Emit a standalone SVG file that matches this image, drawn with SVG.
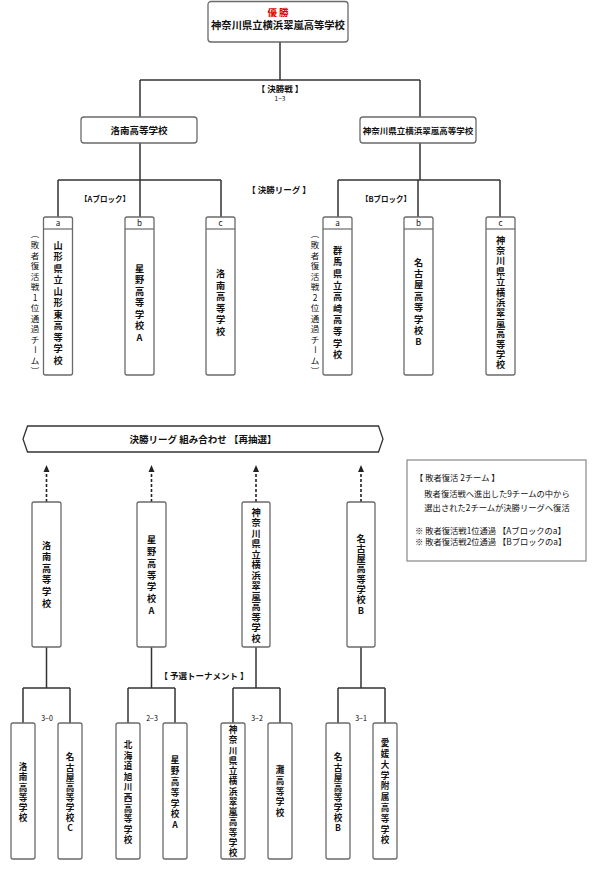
<svg xmlns="http://www.w3.org/2000/svg" width="600" height="888" viewBox="0 0 600 888">
<style>
text{font-family:"Noto Sans CJK JP","Liberation Sans",sans-serif;fill:#111}
.box{fill:#fff;stroke:#6a6a6a;stroke-width:1.3}
.hl{stroke:#6a6a6a;stroke-width:1.2}
.ln{fill:none;stroke:#333;stroke-width:1.5}
.dash{fill:none;stroke:#222;stroke-width:1.6;stroke-dasharray:3 2}
.b{font-weight:bold}
.c{text-anchor:middle}
.v1{text-anchor:middle;font-size:9.2px;font-weight:bold}
.v3{text-anchor:middle;font-size:8.6px;font-weight:bold}
.side{text-anchor:middle;font-size:8.5px}
.hd{font-size:8px;text-anchor:middle}
.sc{font-size:7px;text-anchor:middle;fill:#000}
.note{font-size:8.3px}
</style>

<g id="connectors">
<path class="ln" d="M280,42 V80 M140,80 H420 M140,80 V117 M420,80 V117"/>
<path class="ln" d="M140,143 V180 M58,180 H221 M58,180 V217 M140,180 V217 M221,180 V217"/>
<path class="ln" d="M420,143 V180 M338,180 H500 M338,180 V217 M418,180 V217 M500,180 V217"/>
<path class="dash" d="M46.5,502 V469 M151.5,502 V469 M256,502 V469 M361,502 V469"/>
<path d="M43.5,472 L46.5,465 L49.5,472 z M148.5,472 L151.5,465 L154.5,472 z M253,472 L256,465 L259,472 z M358,472 L361,465 L364,472 z" fill="#222"/>
<path class="ln" d="M46.5,647 V688 M23,688 H70 M23,688 V723 M70,688 V723"/>
<path class="ln" d="M151.5,647 V688 M128,688 H175 M128,688 V723 M175,688 V723"/>
<path class="ln" d="M256,647 V688 M233,688 H280 M233,688 V723 M280,688 V723"/>
<path class="ln" d="M361,647 V688 M338,688 H385 M338,688 V723 M385,688 V723"/>
</g>

<g id="champion">
<rect class="box" x="208" y="1.5" width="140" height="40.5" rx="3"/>
<text x="278" y="15.5" class="c b" style="font-size:9.5px;fill:#e00000">優 勝</text>
<text x="278" y="29" class="c b" style="font-size:10.3px">神奈川県立横浜翠嵐高等学校</text>
</g>

<g id="final-label">
<text x="280" y="92" class="c b" style="font-size:8.5px">【 決勝戦 】</text>
<text x="280" y="100.5" class="c" style="font-size:6.5px">1−3</text>
</g>

<g id="final-rakunan">
<rect class="box" x="81" y="117" width="116" height="26" rx="3"/>
<text x="139" y="133.5" class="c b" style="font-size:9.5px">洛南高等学校</text>
</g>
<g id="final-kanagawa">
<rect class="box" x="360" y="117" width="116" height="26" rx="3"/>
<text x="418" y="133.5" class="c b" style="font-size:8.5px">神奈川県立横浜翠嵐高等学校</text>
</g>

<g id="league-labels">
<text x="279" y="193" class="c b" style="font-size:8.5px">【 決勝リーグ 】</text>
<text x="105" y="202" class="c b" style="font-size:7.5px">【Aブロック】</text>
<text x="386" y="202" class="c b" style="font-size:7.5px">【Bブロック】</text>
</g>

<g id="A-a">
<rect class="box" x="43.5" y="217" width="29" height="158" rx="2"/>
<line class="hl" x1="43.5" y1="229" x2="72.5" y2="229"/>
<text x="58" y="226" class="hd">a</text>
<text class="v1" x="58 58 58 58 58 58 58 58 58 58 58" y="248.5 260 271.5 283 294.5 306 317.5 329 340.5 352 363.5">山形県立山形東高等学校</text>
</g>
<g id="A-side">
<text class="side" transform="rotate(90 35 234.3)" x="35" y="237.5">（</text>
<text class="side" x="35 35 35 35 35 35 35 35 35 35" y="248 258.5 269 279.5 290 300.5 311 321.5 332 342.5">敗者復活戦1位通過チ</text>
<text class="side" transform="rotate(90 35 349.8)" x="35" y="353">ー</text>
<text class="side" x="35" y="363.5">ム</text>
<text class="side" transform="rotate(90 35 370.8)" x="35" y="374">）</text>
</g>
<g id="A-b">
<rect class="box" x="125" y="217" width="29" height="158" rx="2"/>
<line class="hl" x1="125" y1="229" x2="154" y2="229"/>
<text x="139.5" y="226" class="hd">b</text>
<text class="v1" x="139.5 139.5 139.5 139.5 139.5 139.5 139.5" y="271.5 283 294.5 306 317.5 329 340.5">星野高等学校A</text>
</g>
<g id="A-c">
<rect class="box" x="206" y="217" width="29" height="158" rx="2"/>
<line class="hl" x1="206" y1="229" x2="235" y2="229"/>
<text x="220.5" y="226" class="hd">c</text>
<text class="v1" x="220.5 220.5 220.5 220.5 220.5 220.5" y="277.3 288.8 300.3 311.8 323.3 334.8">洛南高等学校</text>
</g>

<g id="B-a">
<rect class="box" x="323" y="217" width="29" height="158" rx="2"/>
<line class="hl" x1="323" y1="229" x2="352" y2="229"/>
<text x="337.5" y="226" class="hd">a</text>
<text class="v1" x="337.5 337.5 337.5 337.5 337.5 337.5 337.5 337.5 337.5 337.5" y="253.8 265.4 277 288.6 300.2 311.8 323.4 335 346.6 358.2">群馬県立高崎高等学校</text>
</g>
<g id="B-side">
<text class="side" transform="rotate(90 315 234.3)" x="315" y="237.5">（</text>
<text class="side" x="315 315 315 315 315 315 315 315 315 315" y="248 258.5 269 279.5 290 300.5 311 321.5 332 342.5">敗者復活戦2位通過チ</text>
<text class="side" transform="rotate(90 315 349.8)" x="315" y="353">ー</text>
<text class="side" x="315" y="363.5">ム</text>
<text class="side" transform="rotate(90 315 370.8)" x="315" y="374">）</text>
</g>
<g id="B-b">
<rect class="box" x="404" y="217" width="29" height="158" rx="2"/>
<line class="hl" x1="404" y1="229" x2="433" y2="229"/>
<text x="418.5" y="226" class="hd">b</text>
<text class="v1" x="418.5 418.5 418.5 418.5 418.5 418.5 418.5 418.5" y="265.6 277 288.4 299.8 311.2 322.6 334 345.4">名古屋高等学校B</text>
</g>
<g id="B-c">
<rect class="box" x="486" y="217" width="29" height="158" rx="2"/>
<line class="hl" x1="486" y1="229" x2="515" y2="229"/>
<text x="500.5" y="226" class="hd">c</text>
<text class="v1" x="500.5 500.5 500.5 500.5 500.5 500.5 500.5 500.5 500.5 500.5 500.5 500.5 500.5" y="243.6 254 264.4 274.8 285.2 295.6 306 316.4 326.8 337.2 347.6 358 368.4">神奈川県立横浜翠嵐高等学校</text>
</g>

<g id="banner">
<path d="M23,439 L27.5,426 H378.5 L383,439 L378.5,452 H27.5 Z" fill="#fff" stroke="#333" stroke-width="1.3"/>
<text x="203" y="442.5" class="c b" style="font-size:9.5px">決勝リーグ 組み合わせ 【再抽選】</text>
</g>

<g id="note">
<rect x="407" y="460" width="179" height="101" fill="#fff" stroke="#888" stroke-width="1.2"/>
<text x="415" y="481" class="note">【 敗者復活 2チーム 】</text>
<text x="497" y="497" class="note c">敗者復活戦へ進出した9チームの中から</text>
<text x="497" y="511" class="note c">選出された2チームが決勝リーグへ復活</text>
<text x="415" y="534" class="note">※ 敗者復活戦1位通過 【Aブロックのa】</text>
<text x="415" y="545" class="note">※ 敗者復活戦2位通過 【Bブロックのa】</text>
</g>

<g id="R-1">
<rect class="box" x="32" y="502" width="29" height="145" rx="2"/>
<text class="v1" x="46.5 46.5 46.5 46.5 46.5 46.5" y="548.5 560.1 571.7 583.3 594.9 606.5">洛南高等学校</text>
</g>
<g id="R-2">
<rect class="box" x="137" y="502" width="29" height="145" rx="2"/>
<text class="v1" x="151.5 151.5 151.5 151.5 151.5 151.5 151.5" y="543.4 555.1 566.8 578.5 590.2 601.9 613.6">星野高等学校A</text>
</g>
<g id="R-3">
<rect class="box" x="242" y="502" width="28" height="145" rx="2"/>
<text class="v1" x="256 256 256 256 256 256 256 256 256 256 256 256 256" y="515.5 526 536.5 547 557.5 568 578.5 589 599.5 610 620.5 631 641.5">神奈川県立横浜翠嵐高等学校</text>
</g>
<g id="R-4">
<rect class="box" x="347" y="502" width="28" height="145" rx="2"/>
<text class="v1" x="361 361 361 361 361 361 361 361" y="541.5 551.8 562.1 572.4 582.6 593 603.3 613.6">名古屋高等学校B</text>
</g>

<g id="prelim-label">
<text x="204" y="679" class="c b" style="font-size:8.5px">【 予選トーナメント 】</text>
</g>
<g id="scores">
<text x="47" y="721" class="sc">3−0</text>
<text x="152" y="721" class="sc">2−3</text>
<text x="257" y="721" class="sc">3−2</text>
<text x="361" y="721" class="sc">3−1</text>
</g>

<g id="P-1">
<rect class="box" x="11" y="723" width="24" height="136" rx="2"/>
<text class="v3" x="23 23 23 23 23 23" y="770.2 780.4 790.6 800.8 811 821.2">洛南高等学校</text>
</g>
<g id="P-2">
<rect class="box" x="58" y="723" width="24" height="136" rx="2"/>
<text class="v3" x="70 70 70 70 70 70 70 70" y="760.4 770.5 780.6 790.7 800.8 810.9 821 831.1">名古屋高等学校C</text>
</g>
<g id="P-3">
<rect class="box" x="116" y="723" width="24" height="136" rx="2"/>
<text class="v3" x="128 128 128 128 128 128 128 128 128 128" y="748 758.6 769.2 779.8 790.4 801 811.6 822.2 832.8 843.4">北海道旭川西高等学校</text>
</g>
<g id="P-4">
<rect class="box" x="163" y="723" width="24" height="136" rx="2"/>
<text class="v3" x="175 175 175 175 175 175 175" y="763.3 774.1 784.9 795.7 806.5 817.3 828.1">星野高等学校A</text>
</g>
<g id="P-5">
<rect class="box" x="221" y="723" width="24" height="136" rx="2"/>
<text class="v3" x="233 233 233 233 233 233 233 233 233 233 233 233 233" y="733.2 743.45 753.7 763.95 774.2 784.45 794.7 804.95 815.2 825.45 835.7 845.95 856.2">神奈川県立横浜翠嵐高等学校</text>
</g>
<g id="P-6">
<rect class="box" x="268" y="723" width="24" height="136" rx="2"/>
<text class="v3" x="280 280 280 280 280" y="773.2 783.95 794.7 805.45 816.2">灘高等学校</text>
</g>
<g id="P-7">
<rect class="box" x="326" y="723" width="24" height="136" rx="2"/>
<text class="v3" x="338 338 338 338 338 338 338 338" y="760.4 770.5 780.6 790.7 800.8 810.9 821 831.1">名古屋高等学校B</text>
</g>
<g id="P-8">
<rect class="box" x="373" y="723" width="24" height="136" rx="2"/>
<text class="v3" x="385 385 385 385 385 385 385 385 385 385" y="746.1 756.9 767.7 778.5 789.3 800.1 810.9 821.7 832.5 843.3">愛媛大学附属高等学校</text>
</g>
</svg>
